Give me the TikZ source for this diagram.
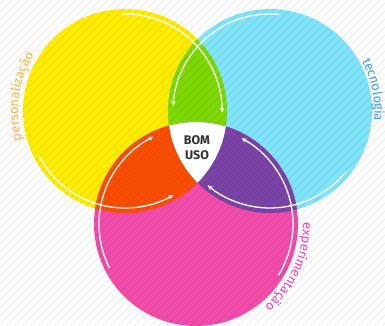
\documentclass[tikz,border=0pt]{standalone}
\usepackage{fontspec}
\setmainfont{Fira Sans}
\usetikzlibrary{arrows.meta,decorations.text}
\newlength{\du}
\setlength{\du}{1pt}
\definecolor{yellowfill}{HTML}{FFED00}
\definecolor{cyanfill}{HTML}{80E4FA}
\definecolor{magentafill}{HTML}{F24CAA}
\definecolor{greenfill}{HTML}{7DD900}
\definecolor{orangefill}{HTML}{F94E00}
\definecolor{purplefill}{HTML}{7A44A6}
\definecolor{persotext}{HTML}{F5B547}
\definecolor{tecnotext}{HTML}{3B9DE2}
\definecolor{experitext}{HTML}{EA44B5}
\definecolor{bomtext}{HTML}{303030}
\tikzset{
  hatchline/.style={black, opacity=0.08, line width=1\du},
  ringarrow/.style={draw=white, line width=1.3\du, -{Stealth[length=5pt,width=4.5pt]}},
  arclabel/.style={decorate, decoration={text along path, text align=center, text={#1}}}
}
\newcommand{\labelfont}{\fontsize{13}{15}\selectfont}

\begin{document}
\begin{tikzpicture}
\useasboundingbox (0,0) rectangle (385\du,-326\du);
\fill[white] (0,0) rectangle (385\du,-326\du);
\coordinate (yellowc) at (125\du,-111\du);
\coordinate (cyanc) at (270\du,-111\du);
\coordinate (magentac) at (196\du,-224\du);
% the three circles
\fill[yellowfill] (yellowc) circle[radius=102\du];
\fill[cyanfill] (cyanc) circle[radius=102\du];
\fill[magentafill] (magentac) circle[radius=102\du];
% overlaps
\begin{scope}
\clip (yellowc) circle[radius=102\du];
\fill[greenfill] (cyanc) circle[radius=102\du];
\fill[orangefill] (magentac) circle[radius=102\du];
\end{scope}
\begin{scope}
\clip (cyanc) circle[radius=102\du];
\fill[purplefill] (magentac) circle[radius=102\du];
\end{scope}
% hatching
\begin{scope}
\clip (0,0) rectangle (385\du,-326\du);
\foreach \i in {-330,-322,...,390}
  \draw[hatchline] (\i\du,-326\du) -- ++(326\du,326\du);
\end{scope}
% centre
\begin{scope}
\clip (yellowc) circle[radius=102\du];
\clip (cyanc) circle[radius=102\du];
\fill[white] (magentac) circle[radius=102\du];
\end{scope}
% white arcs
\draw[ringarrow] (yellowc) ++(92:97\du) arc[start angle=92, end angle=-1, radius=97\du];
\draw[ringarrow] (cyanc) ++(84:97\du) arc[start angle=84, end angle=177, radius=97\du];
\draw[ringarrow] (magentac) ++(207:97\du) arc[start angle=207, end angle=116, radius=97\du];
\draw[ringarrow] (yellowc) ++(208:97\du) arc[start angle=208, end angle=300, radius=97\du];
\draw[ringarrow] (magentac) ++(-32:97\du) arc[start angle=-32, end angle=62, radius=97\du];
\draw[ringarrow] (cyanc) ++(-39:97\du) arc[start angle=-39, end angle=-130, radius=97\du];
% labels
\path[arclabel={|\color{persotext}\labelfont|personalização}] (yellowc) ++(202:107\du) arc[start angle=202, end angle=142, radius=107\du];
\path[arclabel={|\color{tecnotext}\labelfont|tecnologia}] (cyanc) ++(42:104.5\du) arc[start angle=42, end angle=-19, radius=104.5\du];
\path[arclabel={|\color{experitext}\labelfont|experimentação}] (magentac) ++(10:107\du) arc[start angle=10, end angle=-59, radius=107\du];
\node[align=center, text=bomtext, font=\bfseries\fontsize{12.5}{15}\selectfont] (bomuso) at (197\du,-148\du) {BOM\\USO};
\end{tikzpicture}
\end{document}
